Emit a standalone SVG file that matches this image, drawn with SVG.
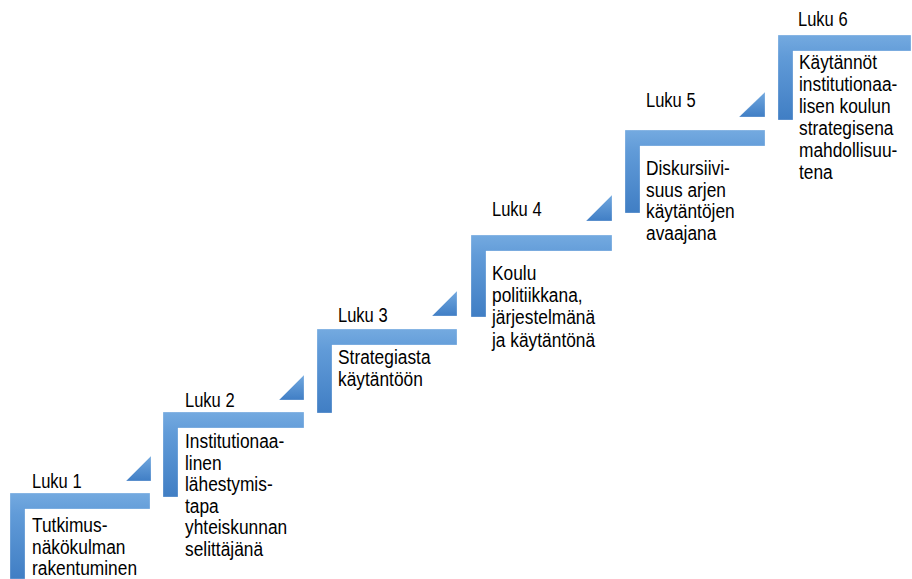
<svg xmlns="http://www.w3.org/2000/svg" width="912" height="579" viewBox="0 0 912 579">
<defs>
<linearGradient id="gc" x1="0" y1="0" x2="0" y2="1">
<stop offset="0" stop-color="#74aae0"/>
<stop offset="0.25" stop-color="#619bd8"/>
<stop offset="1" stop-color="#407ec4"/>
</linearGradient>
<linearGradient id="gt" x1="0" y1="0" x2="0" y2="1">
<stop offset="0" stop-color="#71a8df"/>
<stop offset="1" stop-color="#407ec5"/>
</linearGradient>
<style>
.c{fill:url(#gc);stroke:#ffffff;stroke-opacity:0.35;stroke-width:0.8}
.t{fill:url(#gt);stroke:#ffffff;stroke-opacity:0.35;stroke-width:0.8}
.lb{font-family:"Liberation Sans",Arial,sans-serif;font-size:20px;fill:#000}
.bd{font-family:"Liberation Sans",Arial,sans-serif;font-size:21px;fill:#000}
</style>
</defs>
<rect width="912" height="579" fill="#ffffff"/>
<g id="connectors">
<polygon class="t" points="151,456 151,481 126,481"/>
<polygon class="t" points="304,375 304,400 279,400"/>
<polygon class="t" points="457,291 457,316 432,316"/>
<polygon class="t" points="612,195 612,221 586,221"/>
<polygon class="t" points="765,92 765,117 739,117"/>
</g>
<g id="step1">
<path class="c" d="M10,493 H150 V509 H25 V579 H10 Z"/>
<g transform="translate(32,0) scale(0.826,1)"><text class="lb" x="0" y="488">Luku 1</text></g>
<g transform="translate(32,0) scale(0.826,1)"><text class="bd" x="0" y="532">Tutkimus-<tspan x="0" dy="21.6">näkökulman</tspan><tspan x="0" dy="21.6">rakentuminen</tspan></text></g>
</g>
<g id="step2">
<path class="c" d="M163,412 H304 V428 H178 V497 H163 Z"/>
<g transform="translate(185,0) scale(0.826,1)"><text class="lb" x="0" y="407">Luku 2</text></g>
<g transform="translate(185,0) scale(0.826,1)"><text class="bd" x="0" y="448">Institutionaa-<tspan x="0" dy="21.6">linen</tspan><tspan x="0" dy="21.6">lähestymis-</tspan><tspan x="0" dy="21.6">tapa</tspan><tspan x="0" dy="21.6">yhteiskunnan</tspan><tspan x="0" dy="21.6">selittäjänä</tspan></text></g>
</g>
<g id="step3">
<path class="c" d="M317,329 H457 V345 H332 V413 H317 Z"/>
<g transform="translate(338,0) scale(0.826,1)"><text class="lb" x="0" y="322">Luku 3</text></g>
<g transform="translate(338,0) scale(0.826,1)"><text class="bd" x="0" y="364">Strategiasta<tspan x="0" dy="21.6">käytäntöön</tspan></text></g>
</g>
<g id="step4">
<path class="c" d="M471,235 H612 V251 H486 V317 H471 Z"/>
<g transform="translate(492,0) scale(0.826,1)"><text class="lb" x="0" y="216">Luku 4</text></g>
<g transform="translate(492,0) scale(0.826,1)"><text class="bd" x="0" y="280">Koulu<tspan x="0" dy="22.2">politiikkana,</tspan><tspan x="0" dy="22.2">järjestelmänä</tspan><tspan x="0" dy="22.2">ja käytäntönä</tspan></text></g>
</g>
<g id="step5">
<path class="c" d="M625,130 H765 V146 H640 V213 H625 Z"/>
<g transform="translate(646,0) scale(0.826,1)"><text class="lb" x="0" y="107">Luku 5</text></g>
<g transform="translate(646,0) scale(0.826,1)"><text class="bd" x="0" y="175">Diskursiivi-<tspan x="0" dy="21.6">suus arjen</tspan><tspan x="0" dy="21.6">käytäntöjen</tspan><tspan x="0" dy="21.6">avaajana</tspan></text></g>
</g>
<g id="step6">
<path class="c" d="M778,35 H911 V51 H793 V120 H778 Z"/>
<g transform="translate(798,0) scale(0.826,1)"><text class="lb" x="0" y="26">Luku 6</text></g>
<g transform="translate(799,0) scale(0.826,1)"><text class="bd" x="0" y="69">Käytännöt<tspan x="0" dy="22">institutionaa-</tspan><tspan x="0" dy="22">lisen koulun</tspan><tspan x="0" dy="22">strategisena</tspan><tspan x="0" dy="22">mahdollisuu-</tspan><tspan x="0" dy="22">tena</tspan></text></g>
</g>
</svg>
